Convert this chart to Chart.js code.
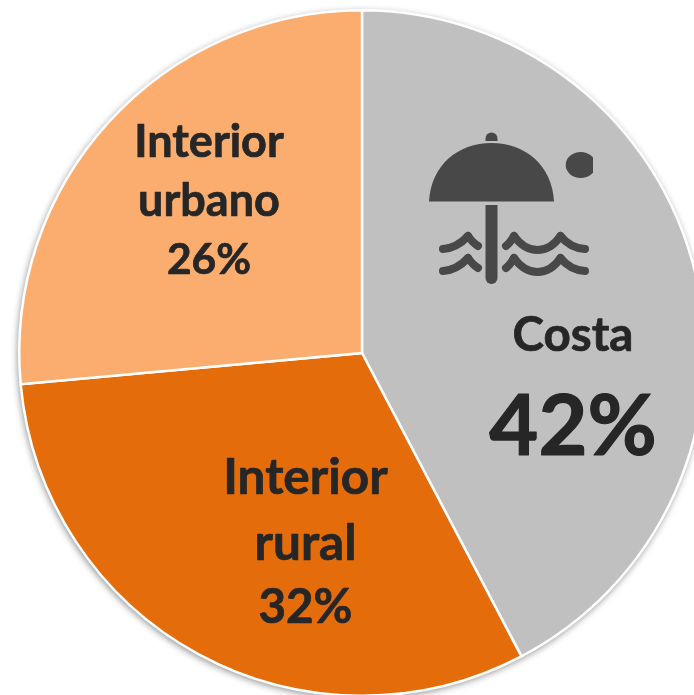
<!DOCTYPE html>
<html><head><meta charset="utf-8">
<style>html,body{margin:0;padding:0;background:#fff;overflow:hidden;width:694px;height:695px}
#w{position:absolute;left:0;top:0;width:694px;height:695px;overflow:hidden}
canvas{position:absolute;left:0;top:0}</style>
<script src="https://cdn.jsdelivr.net/npm/chart.js@4"></script>
</head><body><div id="w"><canvas id="c" width="724" height="706"></canvas></div>
<script>
const categories = ['Costa', 'Interior rural', 'Interior urbano'];
// slice sizes as drawn in the picture
const sliceValues = [42.3, 31.25, 26.45];
const printedPercent = ['42%', '32%', '26%'];
const colors = ['#C0C0C0', '#E46C0A', '#FAAD6E'];
const INK = '#262626', ICON = '#484848';
const FONT = 'Lato, Carlito, sans-serif';

const labelBlocks = [
  {x:573, lines:[['Costa',336,47.5,0.7],[printedPercent[0],428,84.5,1.2]]},
  {x:305.5, lines:[['Interior',478,49.5,0.7],['rural',544,49.5,0.7],[printedPercent[1],608,47.5,0.7]]},
  {x:209, lines:[['Interior',142,45,0.7],['urbano',201,45,0.7],[printedPercent[2],260,42.5,0.7]]}
];

const shadow = {
  id:'shadow',
  beforeDatasetsDraw(ch){
    const a = ch.getDatasetMeta(0).data[0], c = ch.ctx;
    c.save();
    c.shadowColor='rgba(0,0,0,0.45)'; c.shadowBlur=7; c.shadowOffsetX=-1; c.shadowOffsetY=2;
    c.fillStyle='#fff'; c.beginPath(); c.arc(a.x,a.y,a.outerRadius+0.5,0,Math.PI*2); c.fill();
    c.restore();
  }
};

function wave(c,pts){
  c.beginPath(); c.moveTo(pts[0][0],pts[0][1]);
  for(let i=1;i<pts.length;i++){const p=pts[i]; c.quadraticCurveTo(p[0],p[1],p[2],p[3]);}
  c.stroke();
}
const overlay = {
  id:'overlay',
  afterDatasetsDraw(ch){
    const c = ch.ctx;
    c.save();
    // beach icon
    c.fillStyle=ICON; c.strokeStyle=ICON;
    c.beginPath(); c.moveTo(429,201.5);
    c.bezierCurveTo(431,165,458,143,491.5,143);
    c.bezierCurveTo(525,143,552,165,554,201.5); c.closePath(); c.fill();
    c.beginPath(); c.moveTo(485.5,141); c.arc(491.5,138.5,6,Math.PI,0); c.lineTo(497.5,141); c.closePath(); c.fill();
    c.beginPath(); c.moveTo(485.5,205); c.lineTo(497.5,205); c.lineTo(497.5,278);
    c.arc(491.5,278,6,0,Math.PI); c.closePath(); c.fill();
    c.save(); c.beginPath(); c.rect(560,140,33,50); c.clip();
    c.beginPath(); c.ellipse(580.7,165,15,13,0,0,Math.PI*2); c.fill(); c.restore();
    c.lineWidth=8; c.lineCap='round'; c.lineJoin='round';
    for(const d of [0,22]){
      wave(c,[[443,249+d],[457,248+d,468,236+d]]);
      wave(c,[[468,236+d],[473,243+d,478,246+d]]);
      wave(c,[[506,246+d],[510,243+d,514,236+d]]);
      wave(c,[[514,236+d],[524,250+d,537.5,250+d],[551,250+d,560.5,236+d]]);
      wave(c,[[560.5,236+d],[570,248+d,585,249+d]]);
    }
    // labels
    c.fillStyle=INK; c.strokeStyle=INK; c.textAlign='center'; c.textBaseline='middle'; c.lineJoin='round';
    for(const b of labelBlocks) for(const [t,y,s,w] of b.lines){
      c.font='bold '+s+'px '+FONT; c.lineWidth=w; c.strokeText(t,b.x,y); c.fillText(t,b.x,y);
    }
    c.restore();
  }
};

new Chart(document.getElementById('c'),{
  type:'pie',
  data:{labels:categories,datasets:[{data:sliceValues,backgroundColor:colors,borderColor:'#fff',borderWidth:2.5,borderJoinStyle:'miter',hoverOffset:0}]},
  options:{responsive:false,animation:false,devicePixelRatio:1,layout:{padding:9},
    plugins:{legend:{display:false},tooltip:{enabled:false},title:{display:false}}},
  plugins:[shadow,overlay]
});
</script></body></html>
